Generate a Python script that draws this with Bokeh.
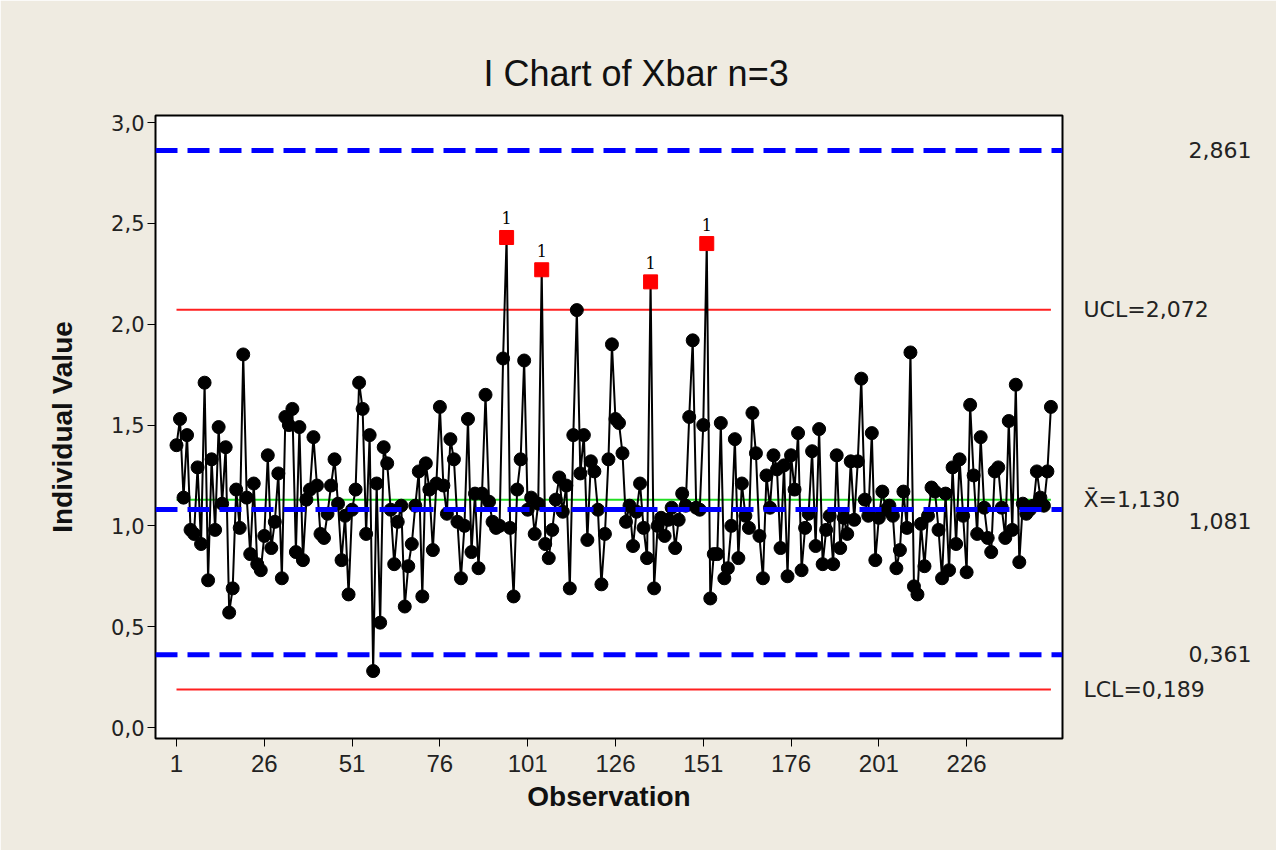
from bokeh.plotting import figure
from bokeh.models import Span, FixedTicker, Range1d, ColumnDataSource, LinearAxis
from bokeh.embed import file_html
from bokeh.resources import INLINE
from bokeh.core.properties import value

# ---------------- data ----------------
xbar_1_29 = [1.40, 1.53, 1.14, 1.45, 0.98, 0.96, 1.29, 0.91, 1.71, 0.73,
             1.33, 0.98, 1.49, 1.11, 1.39, 0.57, 0.69, 1.18, 0.99, 1.85,
             1.14, 0.86, 1.21, 0.81, 0.78, 0.95, 1.35, 0.89, 1.02]
xbar_30_61 = [1.26, 0.74, 1.54, 1.50, 1.58, 0.87, 1.49, 0.83, 1.13, 1.18,
              1.44, 1.20, 0.96, 0.94, 1.06, 1.20, 1.33, 1.11, 0.83, 1.05,
              0.66, 1.08, 1.18, 1.71, 1.58, 0.96, 1.45, 0.28, 1.21, 0.52,
              1.39, 1.31]
xbar_62_95 = [1.08, 0.81, 1.02, 1.10, 0.60, 0.80, 0.91, 1.10, 1.27, 0.65,
              1.31, 1.18, 0.88, 1.21, 1.59, 1.20, 1.06, 1.43, 1.33, 1.02,
              0.74, 1.00, 1.53, 0.87, 1.16, 0.79, 1.16, 1.65, 1.12, 1.02,
              0.99, 1.00, 1.83, 2.43]
xbar_96_129 = [0.99, 0.65, 1.18, 1.33, 1.82, 1.08, 1.14, 0.96, 1.11, 2.27,
               0.91, 0.84, 0.98, 1.13, 1.24, 1.07, 1.20, 0.69, 1.45, 2.07,
               1.26, 1.45, 0.93, 1.32, 1.27, 1.08, 0.71, 0.96, 1.33, 1.90,
               1.53, 1.51, 1.36, 1.02]
xbar_130_160 = [1.10, 0.90, 1.07, 1.21, 0.99, 0.84, 2.21, 0.69, 1.00, 1.04,
                0.95, 1.03, 1.09, 0.89, 1.03, 1.16, 1.10, 1.54, 1.92, 1.09,
                1.08, 1.50, 2.40, 0.64, 0.86, 0.86, 1.51, 0.74, 0.79, 1.00,
                1.43]
xbar_161_193 = [0.84, 1.21, 1.05, 0.99, 1.56, 1.36, 0.95, 0.74, 1.25, 1.09,
                1.35, 1.28, 0.89, 1.30, 0.75, 1.35, 1.18, 1.46, 0.78, 0.99,
                1.06, 1.37, 0.90, 1.48, 0.81, 0.98, 1.05, 0.81, 1.35, 0.89,
                1.04, 0.96, 1.32]
xbar_194_218 = [1.03, 1.32, 1.73, 1.13, 1.05, 1.46, 0.83, 1.04, 1.17, 1.08,
                1.10, 1.05, 0.79, 0.88, 1.17, 0.99, 1.86, 0.70, 0.66, 1.01,
                0.80, 1.05, 1.19, 1.17, 0.98]
xbar_219_250 = [0.74, 1.16, 0.78, 1.29, 0.91, 1.33, 1.05, 0.77, 1.60, 1.25,
                0.96, 1.44, 1.09, 0.94, 0.87, 1.27, 1.29, 1.09, 0.94, 1.52,
                0.98, 1.70, 0.82, 1.11, 1.06, 1.08, 1.10, 1.27, 1.14, 1.10,
                1.27, 1.59]

xbar = (xbar_1_29 + xbar_30_61 + xbar_62_95 + xbar_96_129 + xbar_130_160
        + xbar_161_193 + xbar_194_218 + xbar_219_250)
observation = list(range(1, len(xbar) + 1))

ooc_obs = [95, 105, 136, 152]          # test 1 failures
UCL, CENTER, LCL = 2.072, 1.130, 0.189
blue_levels = [2.861, 1.081, 0.361]
blue_texts = ["2,861", "1,081", "0,361"]
limit_texts = ["UCL=2,072", "X\u0304=1,130", "LCL=0,189"]

x_ticks = [1, 26, 51, 76, 101, 126, 151, 176, 201, 226]
y_ticks = [0.0, 0.5, 1.0, 1.5, 2.0, 2.5, 3.0]
y_tick_labels = ["0,0", "0,5", "1,0", "1,5", "2,0", "2,5", "3,0"]

# ---------------- figure ----------------
W, H = 1276, 850
BORDER_L, BORDER_R, BORDER_T, BORDER_B = 155, 214, 115, 112
Y0, Y1 = -0.0545, 3.035
BG = "#EFEBE1"
p = figure(width=W, height=H, output_backend="svg", toolbar_location=None,
           x_range=Range1d(-4.98, 253.3), y_range=Range1d(Y0, Y1),
           min_border_left=BORDER_L, min_border_right=BORDER_R,
           min_border_top=BORDER_T, min_border_bottom=BORDER_B,
           title="I Chart of Xbar n=3")
p.border_fill_color = BG
p.background_fill_color = "white"
p.outline_line_color = "black"
p.outline_line_width = 2
p.xgrid.visible = False
p.ygrid.visible = False

p.title.align = "left"
p.title.offset = 328
p.title.standoff = 44
p.title.text_font = "Liberation Sans"
p.title.text_font_size = "36px"
p.title.text_font_style = "normal"
p.title.text_color = "#111111"

# axes
p.xaxis.ticker = FixedTicker(ticks=x_ticks)
p.yaxis.ticker = FixedTicker(ticks=y_ticks)
p.yaxis.major_label_overrides = {t: l for t, l in zip(y_ticks, y_tick_labels)}
for ax in (p.xaxis[0], p.yaxis[0]):
    ax.axis_line_color = "black"
    ax.axis_line_width = 1
    ax.major_tick_line_color = "black"
    ax.major_tick_line_width = 1
    ax.major_tick_out = 8
    ax.major_tick_in = 0
    ax.minor_tick_line_color = None
    ax.major_label_text_color = "#222222"
    ax.axis_label_text_color = "#111111"
    ax.axis_label_text_font_style = "bold"

p.yaxis.major_label_text_font = "DejaVu Sans"
p.yaxis.major_label_text_font_size = "21px"
p.yaxis.major_label_standoff = 3
p.yaxis.axis_label = "Individual Value"
p.yaxis.axis_label_text_font = "Liberation Sans"
p.yaxis.axis_label_text_font_size = "28px"
p.yaxis.axis_label_standoff = 30

p.xaxis.major_label_text_font = "Liberation Sans"
p.xaxis.major_label_text_font_size = "24px"
p.xaxis.major_label_standoff = 8
p.xaxis.axis_label = "Observation"
p.xaxis.axis_label_text_font = "Liberation Sans"
p.xaxis.axis_label_text_font_size = "28px"
p.xaxis.axis_label_standoff = 6

# right-hand annotation axis: control-limit labels (left aligned) and
# reference-line values (pushed right with no-break spaces)
PX_PER_UNIT = (H - BORDER_T - BORDER_B) / (Y1 - Y0)
label_pos = [UCL, CENTER, LCL]
label_txt = list(limit_texts)
for lv, txt, off_px in zip(blue_levels, blue_texts, [0, -12, 0]):
    label_pos.append(lv + off_px / PX_PER_UNIT)
    label_txt.append("\u00a0" * 15 + txt)
rax = LinearAxis(ticker=FixedTicker(ticks=label_pos),
                 major_label_overrides={t: s for t, s in zip(label_pos, label_txt)})
rax.axis_line_color = None
rax.major_tick_line_color = None
rax.minor_tick_line_color = None
rax.major_tick_out = 0
rax.major_tick_in = 0
rax.major_label_standoff = 21
rax.major_label_text_font = "DejaVu Sans"
rax.major_label_text_font_size = "22px"
rax.major_label_text_color = "#222222"
p.add_layout(rax, "right")

# reference lines
for lv in blue_levels:
    p.add_layout(Span(location=lv, dimension="width", line_color="#0000FF",
                      line_width=5, line_dash="22 10"))

x0, x1 = observation[0], observation[-1]
p.line([x0, x1], [UCL, UCL], line_color="#FF2020", line_width=2)
p.line([x0, x1], [LCL, LCL], line_color="#FF2020", line_width=2)
p.line([x0, x1], [CENTER, CENTER], line_color="#22DD22", line_width=2)

# series
src = ColumnDataSource(dict(x=observation, y=xbar))
p.line("x", "y", source=src, line_color="black", line_width=2)
normal = [(o, v) for o, v in zip(observation, xbar) if o not in ooc_obs]
p.scatter([o for o, _ in normal], [v for _, v in normal], marker="circle",
          size=13, fill_color="black", line_color="black")
ooc_vals = [xbar[o - 1] for o in ooc_obs]
p.scatter(ooc_obs, ooc_vals, marker="square", size=14,
          fill_color="#FF0000", line_color="#FF0000")
p.text(ooc_obs, ooc_vals, text=["1"] * len(ooc_obs), text_align="center",
       text_baseline="bottom", y_offset=-13, text_font=value("DejaVu Serif"),
       text_font_size="16px", text_color="black")

open("out.html", "w").write(file_html(p, INLINE))
